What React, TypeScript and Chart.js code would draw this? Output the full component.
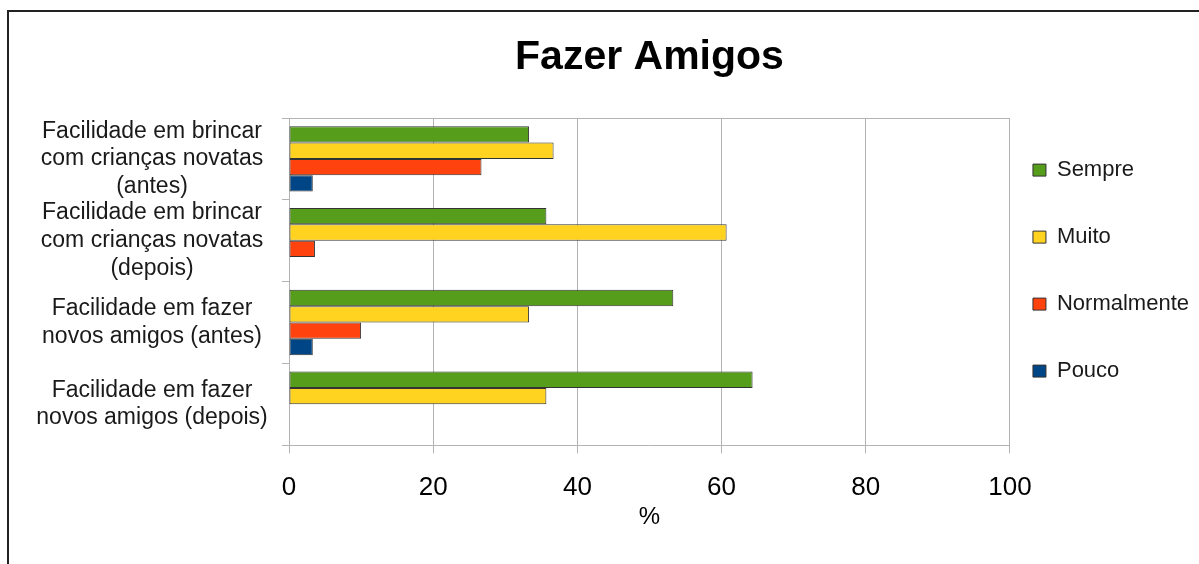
import React, { useEffect, useRef } from "react";
import { Chart, registerables } from "chart.js";

Chart.register(...registerables);

const FONT = "'Liberation Sans', Arial, sans-serif";

const categories: string[][] = [
  ["Facilidade em brincar", "com crianças novatas", "(antes)"],
  ["Facilidade em brincar", "com crianças novatas", "(depois)"],
  ["Facilidade em fazer", "novos amigos (antes)"],
  ["Facilidade em fazer", "novos amigos (depois)"],
];

const seriesNames = ["Sempre", "Muito", "Normalmente", "Pouco"];
const sempre = [33.3, 35.7, 53.3, 64.3];
const muito = [36.7, 60.7, 33.3, 35.7];
const normalmente = [26.7, 3.6, 10.0, 0];
const pouco = [3.3, 0, 3.3, 0];
const seriesColors = ["#579d1c", "#ffd320", "#ff420e", "#004586"];

const xTicks = [0, 20, 40, 60, 80, 100];
const chartTitle = "Fazer Amigos";
const xAxisTitle = "%";

export default function App() {
  const canvasRef = useRef<HTMLCanvasElement | null>(null);

  useEffect(() => {
    if (!canvasRef.current) return;
    const values = [sempre, muito, normalmente, pouco];
    const grid = "#b3b3b3";
    const chart = new Chart(canvasRef.current, {
      type: "bar",
      data: {
        labels: categories,
        datasets: seriesNames.map((name, i) => ({
          label: name,
          data: values[i],
          backgroundColor: seriesColors[i],
          borderColor: "#333333",
          borderWidth: 1,
          borderSkipped: false,
          categoryPercentage: 0.8,
          barPercentage: 1.0,
        })),
      },
      options: {
        indexAxis: "y",
        responsive: true,
        maintainAspectRatio: false,
        animation: false,
        layout: { padding: { left: 22, right: 0, top: 0, bottom: 32 } },
        scales: {
          x: {
            min: xTicks[0],
            max: xTicks[xTicks.length - 1],
            afterBuildTicks: (scale: any) => {
              scale.ticks = xTicks.map((v) => ({ value: v }));
            },
            ticks: {
              font: { family: FONT, size: 26 },
              color: "#000000",
              padding: 19.4,
            },
            grid: { color: grid, tickColor: grid, tickLength: 8, lineWidth: 1 },
            border: { color: grid },
            title: {
              display: true,
              text: xAxisTitle,
              font: { family: FONT, size: 24 },
              color: "#000000",
              padding: { top: -20, bottom: 0 },
            },
          },
          y: {
            afterFit: (scale: any) => {
              scale.width = 267;
            },
            ticks: {
              autoSkip: false,
              font: { family: FONT, size: 23 },
              color: "#1a1a1a",
              padding: 14.3,
              crossAlign: "center",
            },
            grid: {
              offset: true,
              drawOnChartArea: true,
              color: (c: any) => (c.index === 0 ? grid : "rgba(0,0,0,0)"),
              tickColor: grid,
              tickLength: 7,
            },
            border: { color: grid },
          },
        },
        plugins: {
          title: {
            display: true,
            text: chartTitle,
            fullSize: false,
            font: { family: FONT, size: 41, weight: "bold" },
            color: "#000000",
            padding: { top: 33, bottom: 35.8 },
          },
          legend: {
            position: "right",
            fullSize: false,
            align: "center",
            labels: {
              boxWidth: 13,
              boxHeight: 12,
              padding: 23,
              color: "#1a1a1a",
              font: { family: FONT, size: 22, lineHeight: 2 },
              generateLabels: (ch: any) =>
                Chart.defaults.plugins.legend.labels
                  .generateLabels(ch)
                  .map((l: any) => ({ ...l, text: [l.text] })),
            },
          },
          tooltip: { enabled: false },
        },
      },
    });
    return () => chart.destroy();
  }, []);

  return (
    <div
      style={{
        position: "fixed",
        left: 0,
        top: 0,
        width: 1199,
        height: 564,
        overflow: "hidden",
        background: "#ffffff",
      }}
    >
      <div
        style={{
          position: "absolute",
          left: 7,
          top: 10,
          width: 1400,
          height: 800,
          border: "2px solid #222222",
        }}
      />
      <div style={{ position: "absolute", left: 0, top: 0, width: 1199, height: 564 }}>
        <canvas ref={canvasRef} />
      </div>
    </div>
  );
}
